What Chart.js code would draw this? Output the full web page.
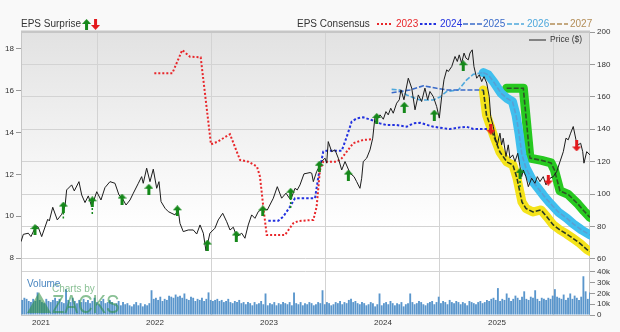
<!DOCTYPE html>
<html>
<head>
<meta charset="utf-8">
<script src="https://cdn.jsdelivr.net/npm/chart.js@4.4.1/dist/chart.umd.min.js"></script>
<style>
  html, body { margin: 0; padding: 0; background: #f9f9f9; }
  canvas { display: block; }
</style>
</head>
<body>
<canvas id="chart" width="620" height="332"></canvas>
<script>
// x axis is fractional years, left axis EPS, right axis price and volume
const xYears = [2021, 2022, 2023, 2024, 2025];
const epsTicks = [8, 10, 12, 14, 16, 18];
const priceTicks = [60, 80, 100, 120, 140, 160, 180, 200];
const volumeTicks = [0, 10000, 20000, 30000, 40000];

const priceDates = [
  2020.825, 2020.845, 2020.889, 2020.912, 2020.956, 2020.976, 2021.006, 2021.059, 2021.073, 2021.103,
  2021.143, 2021.182, 2021.211, 2021.225, 2021.269, 2021.292, 2021.333, 2021.357, 2021.386, 2021.415,
  2021.445, 2021.489, 2021.526, 2021.561, 2021.605, 2021.649, 2021.684, 2021.713, 2021.746, 2021.781,
  2021.810, 2021.854, 2021.883, 2021.897, 2021.927, 2021.956, 2021.985, 2022.015, 2022.035, 2022.053,
  2022.088, 2022.117, 2022.175, 2022.204, 2022.219, 2022.248, 2022.292, 2022.336, 2022.366, 2022.395,
  2022.424, 2022.447, 2022.482, 2022.526, 2022.555, 2022.594, 2022.629, 2022.658, 2022.687, 2022.717,
  2022.761, 2022.789, 2022.818, 2022.848, 2022.877, 2022.906, 2022.950, 2022.985, 2023.038, 2023.073,
  2023.111, 2023.149, 2023.190, 2023.228, 2023.248, 2023.272, 2023.307, 2023.360, 2023.375, 2023.389,
  2023.418, 2023.441, 2023.462, 2023.491, 2023.506, 2023.520, 2023.550, 2023.579, 2023.608, 2023.638,
  2023.667, 2023.711, 2023.746, 2023.769, 2023.798, 2023.813, 2023.827, 2023.857, 2023.886, 2023.910,
  2023.930, 2023.959, 2023.974, 2024.003, 2024.026, 2024.046, 2024.068, 2024.090, 2024.120, 2024.143,
  2024.158, 2024.184, 2024.222, 2024.252, 2024.281, 2024.310, 2024.339, 2024.368, 2024.392, 2024.412,
  2024.441, 2024.471, 2024.494, 2024.515, 2024.535, 2024.559, 2024.573, 2024.603, 2024.632, 2024.652,
  2024.669, 2024.690, 2024.711, 2024.728, 2024.748, 2024.763, 2024.783, 2024.798, 2024.822, 2024.845,
  2024.866, 2024.886, 2024.910, 2024.932, 2024.945, 2024.968, 2024.982, 2025.003, 2025.026, 2025.041,
  2025.055, 2025.079, 2025.099, 2025.114, 2025.138, 2025.158, 2025.182, 2025.202, 2025.217, 2025.231,
  2025.254, 2025.275, 2025.304, 2025.333, 2025.354, 2025.377, 2025.406, 2025.430, 2025.465, 2025.494,
  2025.524, 2025.553, 2025.582, 2025.605, 2025.625, 2025.646, 2025.669, 2025.693, 2025.713, 2025.734,
  2025.752, 2025.763, 2025.787, 2025.816
];
const priceValues = [
  70.7, 75.2, 75.9, 73.8, 80.4, 79.6, 73.8, 84.5, 83.5, 91.9,
  84.1, 87.6, 92.7, 102.6, 105.7, 102.0, 107.7, 99.5, 94.8, 98.9,
  92.3, 101.5, 96.4, 104.0, 107.7, 106.7, 99.5, 97.5, 93.3, 96.4,
  100.6, 106.7, 110.8, 106.7, 116.0, 107.7, 115.4, 103.6, 107.7, 95.4,
  91.3, 89.2, 87.2, 90.2, 82.0, 76.9, 77.9, 77.9, 75.4, 81.0,
  75.9, 65.1, 75.9, 79.0, 84.1, 88.2, 83.0, 77.9, 79.6, 73.8,
  75.9, 72.8, 81.0, 87.2, 85.1, 89.2, 91.3, 90.2, 97.5, 104.6,
  97.5, 100.6, 96.4, 103.6, 102.6, 105.7, 112.5, 113.3, 112.9, 107.7,
  113.9, 117.0, 120.1, 122.2, 119.1, 132.4, 126.2, 127.3, 122.2, 114.9,
  120.1, 112.9, 110.8, 107.7, 103.6, 109.8, 120.1, 122.2, 127.3, 134.5,
  147.8, 146.9, 148.9, 146.2, 150.9, 148.9, 153.0, 149.9, 156.1, 158.2,
  164.3, 158.2, 171.5, 165.4, 152.0, 161.2, 157.1, 165.4, 158.2, 163.3,
  160.2, 154.0, 146.9, 160.2, 170.5, 176.7, 175.6, 178.7, 184.9, 181.8,
  185.9, 180.8, 187.0, 183.9, 182.8, 187.0, 189.0, 178.7, 171.5, 173.6,
  169.4, 172.5, 168.5, 160.2, 147.8, 141.7, 135.5, 130.4, 137.6, 130.4,
  134.5, 123.2, 130.4, 122.2, 124.2, 120.1, 125.2, 117.0, 110.8, 114.9,
  110.8, 104.6, 109.8, 106.7, 110.8, 107.7, 110.8, 105.7, 109.8, 110.8,
  113.9, 120.1, 126.2, 134.5, 133.5, 137.6, 141.7, 133.5, 130.4, 131.4,
  126.2, 119.1, 126.2, 124.2
];

// EPS consensus per fiscal year
const eps2023Dates = [2021.994, 2022.152, 2022.239, 2022.307, 2022.401, 2022.491, 2022.546, 2022.658, 2022.746, 2022.818,
  2022.895, 2022.921, 2022.950, 2022.980, 2023.140, 2023.213, 2023.257, 2023.389, 2023.418, 2023.447,
  2023.476, 2023.594, 2023.638, 2023.682, 2023.739, 2023.827, 2023.901];
const eps2023Values = [16.84, 16.84, 17.95, 17.63, 17.60, 13.44, 13.56, 13.92, 12.69, 12.61,
  12.37, 11.89, 10.45, 9.10, 9.10, 9.66, 9.77, 9.82, 10.45, 12.21,
  12.61, 12.61, 12.77, 13.09, 13.49, 13.65, 13.68];

const eps2024Dates = [2022.994, 2023.082, 2023.125, 2023.184, 2023.228, 2023.404, 2023.433, 2023.476, 2023.506, 2023.638,
  2023.682, 2023.725, 2023.769, 2023.827, 2023.901, 2023.974, 2024.032, 2024.120, 2024.208, 2024.266,
  2024.325, 2024.441, 2024.529, 2024.588, 2024.675, 2024.734, 2024.792, 2024.910, 2024.954];
const eps2024Values = [9.78, 9.78, 9.98, 10.45, 10.86, 10.86, 11.89, 13.09, 13.13, 13.13,
  13.80, 14.52, 14.68, 14.73, 14.60, 14.44, 14.36, 14.36, 14.28, 14.44,
  14.47, 14.28, 14.21, 14.17, 14.25, 14.28, 14.17, 14.17, 14.16];

const eps2025Dates = [2024.076, 2024.237, 2024.354, 2024.471, 2024.559, 2024.880, 2024.908, 2024.968, 2025.026, 2025.088,
  2025.140, 2025.175, 2025.219, 2025.254, 2025.316, 2025.386, 2025.439, 2025.494, 2025.553, 2025.611,
  2025.669, 2025.728, 2025.787, 2025.816];
const eps2025Values = [15.91, 16.04, 16.24, 16.12, 16.04, 16.04, 14.84, 13.89, 13.07, 12.59,
  12.45, 11.83, 10.68, 10.37, 10.20, 10.30, 9.96, 9.58, 9.34, 9.15,
  8.93, 8.70, 8.41, 8.31];

const eps2026Dates = [2024.076, 2024.149, 2024.208, 2024.281, 2024.325, 2024.441, 2024.500, 2024.559, 2024.661, 2024.734,
  2024.792, 2024.880, 2024.924, 2024.974, 2025.035, 2025.088, 2025.136, 2025.167, 2025.193, 2025.219,
  2025.254, 2025.318, 2025.406, 2025.465, 2025.538, 2025.611, 2025.669, 2025.743, 2025.816];
const eps2026Values = [16.07, 16.04, 15.80, 15.64, 15.56, 15.56, 15.70, 15.97, 16.04, 16.52,
  16.79, 16.87, 16.76, 16.40, 15.89, 15.64, 15.48, 14.84, 13.98, 12.93,
  12.31, 11.64, 11.01, 10.63, 10.20, 9.91, 9.63, 9.34, 9.10];

const eps2027Dates = [2025.085, 2025.231, 2025.289, 2025.392, 2025.474, 2025.504, 2025.553, 2025.625, 2025.711, 2025.763, 2025.816];
const eps2027Values = [16.12, 16.12, 12.78, 12.67, 12.55, 12.21, 11.21, 11.04, 10.58, 10.25, 9.94];

// highlighted stretch of the current estimates
const bandStart = 2024.88;

// EPS surprises (reported EPS, direction, consensus before the report)
const surpriseDates = [2020.947, 2021.196, 2021.450, 2021.711, 2021.946, 2022.196, 2022.459, 2022.713, 2022.945, 2023.190,
  2023.441, 2023.696, 2023.945, 2024.187, 2024.450, 2024.704, 2024.947, 2025.202, 2025.450, 2025.699];
const surpriseEps = [9.36, 10.44, 10.69, 10.82, 11.29, 10.26, 8.62, 9.05, 10.25, 11.10,
  12.39, 11.97, 14.68, 15.21, 14.84, 17.20, 14.16, 12.05, 11.73, 13.36];
const surpriseDir = ['up', 'up', 'up', 'up', 'up', 'up', 'up', 'up', 'up', 'up',
  'up', 'up', 'up', 'up', 'up', 'up', 'down', 'up', 'down', 'down'];
const surpriseFrom = [null, 9.89, 10.11, null, null, null, null, null, null, 10.39,
  null, null, null, null, null, null, null, 11.40, null, null];

// weekly volume, first bar early Nov 2020
const volumeStart = 2020.835;
const volumeValues = [
  14, 16, 15, 13, 12, 15, 13, 21, 14, 12,
  11, 15, 13, 12, 14, 16, 13, 15, 12, 11,
  24, 14, 12, 16, 13, 11, 14, 12, 15, 12,
  14, 11, 13, 16, 12, 10, 13, 15, 11, 12,
  14, 12, 10, 11, 13, 9, 12, 10, 11, 9,
  8, 10, 12, 9, 11, 8, 10, 9, 11, 23,
  15, 16, 14, 17, 13, 15, 14, 18, 17, 16,
  19, 17, 18, 16, 20, 15, 14, 17, 16, 13,
  15, 14, 16, 13, 15, 21, 14, 13, 14, 15,
  13, 14, 12, 13, 15, 12, 11, 13, 12, 14,
  11, 12, 10, 12, 11, 9, 12, 10, 11, 13,
  10, 20, 9, 11, 10, 12, 9, 11, 10, 12,
  11, 10, 12, 9, 21, 11, 10, 12, 9, 11,
  10, 12, 11, 9, 10, 12, 11, 23, 10, 12,
  11, 9, 10, 12, 11, 13, 10, 12, 11, 14,
  15, 12, 13, 11, 10, 12, 11, 9, 10, 12,
  11, 8, 10, 20, 9, 11, 12, 10, 13, 11,
  9, 11, 10, 12, 8, 10, 11, 20, 12, 10,
  11, 13, 12, 10, 9, 11, 12, 13, 10, 12,
  17, 11, 13, 12, 10, 14, 12, 11, 13, 12,
  10, 12, 11, 9, 13, 12, 11, 10, 12, 13,
  11, 12, 14, 13, 15, 16, 14, 25, 13, 15,
  14, 20, 16, 13, 15, 18, 16, 14, 17, 22,
  15, 14, 17, 16, 23, 15, 13, 16, 15, 14,
  16, 15, 18, 24, 17, 16, 15, 19, 14, 16,
  20, 15, 18, 16, 14, 17, 36, 22, 15, 21
];

const FONT = '"Liberation Sans", Arial, Helvetica, sans-serif';
const GREEN = '#15881a';
const RED = '#e3191c';
const C2023 = '#e8262a', C2024 = '#2231df', C2025 = '#3a6bc9', C2026 = '#4ea8dc', C2027 = '#b38d57';

function toPoints(dates, values) {
  return dates.map((t, i) => ({ x: t, y: values[i] }));
}

function makeArrow(color, up) {
  const c = document.createElement('canvas');
  c.width = 9; c.height = 11;
  const g = c.getContext('2d');
  g.fillStyle = color;
  g.beginPath();
  if (up) {
    g.moveTo(4.5, 0); g.lineTo(9, 5); g.lineTo(0, 5);
    g.closePath(); g.fill();
    g.fillRect(3, 5, 3, 6);
  } else {
    g.fillRect(3, 0, 3, 6);
    g.moveTo(0, 6); g.lineTo(9, 6); g.lineTo(4.5, 11);
    g.closePath(); g.fill();
  }
  return c;
}
const upArrow = makeArrow(GREEN, true);
const downArrow = makeArrow(RED, false);

const volumePoints = volumeValues.map((v, i) => ({ x: volumeStart + i / 52, y: v * 1000 }));

const tailPoints = [];
surpriseFrom.forEach((from, i) => {
  if (from === null) return;
  tailPoints.push({ x: surpriseDates[i], y: from }, { x: surpriseDates[i], y: surpriseEps[i] }, { x: surpriseDates[i], y: null });
});

function consensusLine(dates, values, color, dash, width, bandColor) {
  return {
    type: 'line', yAxisID: 'yEps',
    data: toPoints(dates, values),
    borderColor: color, borderWidth: width, borderDash: dash,
    pointRadius: 0, tension: 0, order: 30,
    segment: bandColor ? { borderColor: c => c.p0.parsed.x >= bandStart - 0.001 ? bandColor : undefined } : undefined
  };
}

function band(dates, values, from, color) {
  return {
    type: 'line', yAxisID: 'yEps',
    data: toPoints(dates, values).filter(p => p.x >= from),
    borderColor: color, borderWidth: 9, pointRadius: 0, tension: 0,
    borderCapStyle: 'round', borderJoinStyle: 'round', order: 40
  };
}

function dashSample(ctx, x1, x2, y, color, dash, width) {
  ctx.save();
  ctx.strokeStyle = color;
  ctx.lineWidth = width;
  ctx.setLineDash(dash);
  ctx.beginPath();
  ctx.moveTo(x1, y); ctx.lineTo(x2, y);
  ctx.stroke();
  ctx.restore();
}

const decorations = {
  id: 'decorations',
  afterLayout(chart) {
    // volume axis shares the strip right of the plot with the price axis
    const v = chart.scales.yVol;
    v.left = chart.chartArea.right;
    v.right = chart.width;
    v.width = v.right - v.left;
  },
  beforeDraw(chart) {
    const { ctx, chartArea: a } = chart;
    ctx.save();
    ctx.fillStyle = '#f9f9f9';
    ctx.fillRect(0, 0, chart.width, chart.height);
    const g = ctx.createLinearGradient(0, a.top, 0, a.bottom);
    g.addColorStop(0, '#e2e2e2');
    g.addColorStop(0.45, '#f5f5f5');
    g.addColorStop(0.7, '#ffffff');
    g.addColorStop(1, '#ffffff');
    ctx.fillStyle = g;
    ctx.fillRect(a.left, a.top, a.right - a.left, a.bottom - a.top);
    ctx.restore();
  },
  beforeDatasetsDraw(chart) {
    const { ctx, chartArea: a } = chart;
    ctx.save();
    ctx.strokeStyle = '#c6c6c6';
    ctx.lineWidth = 1;
    ctx.strokeRect(a.left + 0.5, a.top + 0.5, a.right - a.left - 1, a.bottom - a.top);
    ctx.lineWidth = 2;
    ctx.beginPath();
    ctx.moveTo(a.left, a.top - 0.5); ctx.lineTo(a.right, a.top - 0.5);
    ctx.stroke();
    ctx.restore();
  },
  afterDraw(chart) {
    const ctx = chart.ctx;
    ctx.save();
    ctx.textBaseline = 'middle';
    ctx.font = '10px ' + FONT;
    ctx.fillStyle = '#333';
    ctx.fillText('EPS Surprise', 21, 24);
    const ax = 21 + ctx.measureText('EPS Surprise').width + 1;
    ctx.drawImage(upArrow, ax, 19);
    ctx.drawImage(downArrow, ax + 9, 19);

    ctx.fillStyle = '#333';
    ctx.fillText('EPS Consensus', 297, 24);
    dashSample(ctx, 377, 393, 24, C2023, [2, 2], 2);
    ctx.fillStyle = C2023; ctx.fillText('2023', 396, 24);
    dashSample(ctx, 420, 438, 24, C2024, [2.5, 2], 2);
    ctx.fillStyle = C2024; ctx.fillText('2024', 440, 24);
    dashSample(ctx, 463, 482, 24, C2025, [5, 2], 1.6);
    ctx.fillStyle = C2025; ctx.fillText('2025', 483, 24);
    dashSample(ctx, 507, 524, 24, C2026, [5, 2], 1.6);
    ctx.fillStyle = C2026; ctx.fillText('2026', 527, 24);
    dashSample(ctx, 550, 568, 24, C2027, [5, 2], 1.6);
    ctx.fillStyle = C2027; ctx.fillText('2027', 570, 24);

    // price legend inside the plot
    dashSample(ctx, 529, 546, 40, '#222', [], 1);
    ctx.font = '8.5px ' + FONT;
    ctx.fillStyle = '#333';
    ctx.fillText('Price ($)', 550, 40);

    // watermark
    ctx.fillStyle = 'rgba(40, 140, 60, 0.55)';
    ctx.beginPath();
    ctx.moveTo(27, 313); ctx.lineTo(39, 292); ctx.lineTo(51, 313);
    ctx.closePath(); ctx.fill();
    ctx.font = '10px ' + FONT;
    ctx.fillText('Charts by', 52, 289);
    ctx.save();
    ctx.translate(52, 313);
    ctx.scale(0.78, 1);
    ctx.textBaseline = 'alphabetic';
    ctx.font = '26px ' + FONT;
    ctx.fillText('ZACKS', 0, 0);
    ctx.restore();

    ctx.font = '10px ' + FONT;
    ctx.fillStyle = '#4a86c0';
    ctx.fillText('Volume', 27, 284);
    ctx.restore();
  }
};

Chart.defaults.font.family = FONT;
Chart.defaults.color = '#333';

new Chart(document.getElementById('chart'), {
  type: 'line',
  data: {
    datasets: [
      {
        type: 'bar', yAxisID: 'yVol', data: volumePoints,
        backgroundColor: '#5a96cc', borderWidth: 0,
        barPercentage: 1, categoryPercentage: 0.85, order: 50
      },
      band(eps2025Dates, eps2025Values, bandStart, '#f4e31a'),
      band(eps2026Dates, eps2026Values, bandStart, '#3fbfee'),
      band(eps2027Dates, eps2027Values, eps2027Dates[0], '#27c920'),
      consensusLine(eps2023Dates, eps2023Values, C2023, [2, 2], 2),
      consensusLine(eps2024Dates, eps2024Values, C2024, [2.5, 2], 2),
      consensusLine(eps2025Dates, eps2025Values, C2025, [5, 2], 1.6, '#2b3a22'),
      consensusLine(eps2026Dates, eps2026Values, C2026, [5, 2], 1.6, '#5a9fd4'),
      consensusLine(eps2027Dates, eps2027Values, '#2d5526', [5, 2], 1.6),
      {
        type: 'line', yAxisID: 'y', data: toPoints(priceDates, priceValues),
        borderColor: '#1c1c1c', borderWidth: 1, pointRadius: 0, tension: 0, order: 10
      },
      {
        type: 'line', yAxisID: 'yEps', data: tailPoints, spanGaps: false,
        borderColor: GREEN, borderWidth: 1.5, borderDash: [2, 2], pointRadius: 0, order: 5
      },
      {
        type: 'line', yAxisID: 'yEps', data: toPoints(surpriseDates, surpriseEps), showLine: false,
        pointRadius: 4, pointStyle: c => surpriseDir[c.dataIndex] === 'up' ? upArrow : downArrow, order: 1
      }
    ]
  },
  options: {
    responsive: false,
    animation: false,
    events: [],
    devicePixelRatio: 1,
    layout: { padding: { top: 32, left: 0, right: 0, bottom: 0 } },
    plugins: { legend: { display: false }, tooltip: { enabled: false } },
    scales: {
      x: {
        type: 'linear', min: 2020.8246, max: 2025.816, offset: false,
        afterBuildTicks: s => { s.ticks = xYears.map(v => ({ value: v })); },
        afterFit: s => { s.height = 17; },
        grid: { color: '#d3d3d3', drawTicks: false },
        border: { display: false },
        ticks: { font: { size: 8 }, padding: 3, maxRotation: 0, callback: v => String(v) }
      },
      yEps: {
        position: 'left', min: 5.273, max: 18.813,
        afterBuildTicks: s => { s.ticks = epsTicks.map(v => ({ value: v })); },
        afterFit: s => { s.width = 21; },
        grid: { drawOnChartArea: false, tickLength: 5, tickColor: '#999' },
        border: { display: false },
        ticks: { font: { size: 8 }, padding: 2 }
      },
      yVol: {
        position: 'right', weight: 1, min: 0, max: 263000,
        afterBuildTicks: s => { s.ticks = volumeTicks.map(v => ({ value: v })); },
        afterFit: s => { s.width = 0; },
        grid: {
          color: c => c.tick && c.tick.value === 40000 ? '#d3d3d3' : 'rgba(0,0,0,0)',
          tickLength: 5, tickColor: '#999'
        },
        border: { display: false },
        ticks: { font: { size: 8 }, padding: 2, callback: v => v === 0 ? '0' : (v / 1000) + 'k' }
      },
      y: {
        position: 'right', weight: 0, min: 25.46, max: 200,
        afterBuildTicks: s => { s.ticks = priceTicks.map(v => ({ value: v })); },
        afterFit: s => { s.width = 30; },
        grid: { color: '#d3d3d3', tickLength: 5, tickColor: '#999' },
        border: { display: false },
        ticks: { font: { size: 8 }, padding: 2 }
      }
    }
  },
  plugins: [decorations]
});
</script>
</body>
</html>
